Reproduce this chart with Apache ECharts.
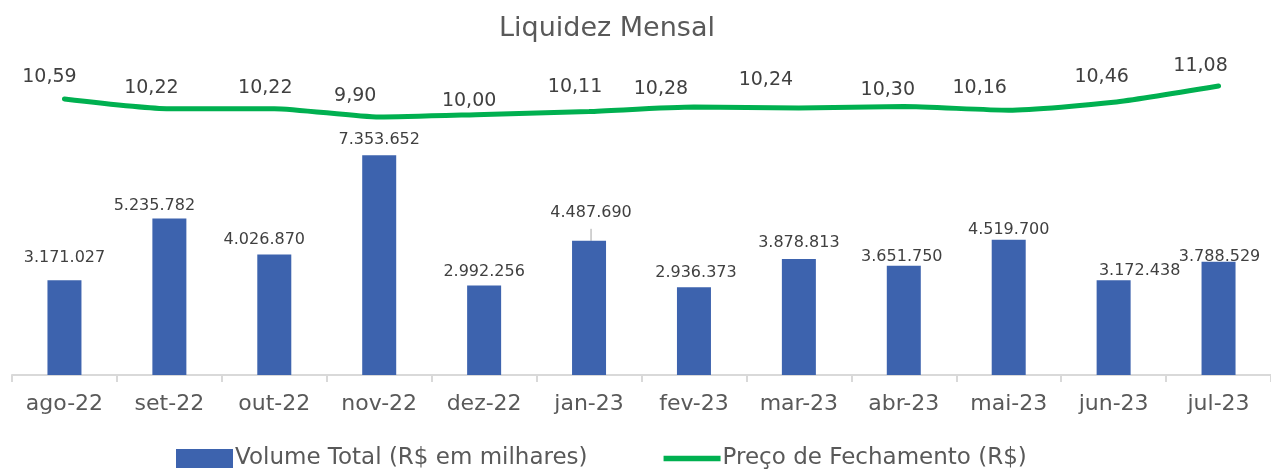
<!DOCTYPE html>
<html>
<head>
<meta charset="utf-8">
<script src="https://cdn.jsdelivr.net/npm/echarts@6/dist/echarts.min.js"></script>
<style>
  html, body { margin: 0; padding: 0; background: #fff; }
  #chart { width: 1271px; height: 470px; }
</style>
</head>
<body>
<div id="chart"></div>
<script>
// dados
var meses = ['ago-22', 'set-22', 'out-22', 'nov-22', 'dez-22', 'jan-23', 'fev-23', 'mar-23', 'abr-23', 'mai-23', 'jun-23', 'jul-23']
var volume = [3171027, 5235782, 4026870, 7353652, 2992256, 4487690, 2936373, 3878813, 3651750, 4519700, 3172438, 3788529]
var preco = [10.59, 10.22, 10.22, 9.90, 10.00, 10.11, 10.28, 10.24, 10.30, 10.16, 10.46, 11.08]

// ajustes manuais dos rótulos (como no Excel)
var offVol = [[0, -8], [-15, 1], [-10, -1], [0, -1], [0, 0], [2, -14], [2, 0], [0, -2], [-2, 5], [0, 4], [26, 5], [1, 9]]
var offPreco = [[-15, -1], [-18, 0], [-9, 0], [-24, 0], [-15, 7], [-14, -4], [-33, 3], [-33, -8], [-16, 4], [-29, -2], [-12, -5], [-18, 1]]
var comLinhaGuia = 5 // jan-23 tem linha guia no rótulo

var fonte = '"DejaVu Sans", sans-serif'
var cinza = '#595959'
var verde = '#00B050'

function fmtMil(v) {
  return String(v).replace(/\B(?=(\d{3})+(?!\d))/g, '.')
}
function fmtPreco(v) {
  return v.toFixed(2).replace('.', ',')
}

var chart = echarts.init(document.getElementById('chart'))
chart.setOption({
  animation: false,
  textStyle: { fontFamily: fonte },
  title: {
    text: 'Liquidez Mensal',
    left: 494,
    top: 10,
    textStyle: { fontFamily: fonte, fontSize: 27, fontWeight: 'normal', color: cinza }
  },
  legend: {
    bottom: 0,
    left: 176,
    padding: 0,
    itemGap: 76,
    itemWidth: 57,
    itemHeight: 19,
    textStyle: { fontFamily: fonte, fontSize: 23, color: cinza, padding: [0, 0, 0, -3] },
    data: [
      { name: 'Volume Total (R$ em milhares)', icon: 'rect' },
      { name: 'Preço de Fechamento (R$)', icon: 'path://M0,0 L10,0 L10,1 L0,1 Z', itemStyle: { color: verde } }
    ]
  },
  grid: { left: 12, top: 76, width: 1265, height: 299, containLabel: false },
  xAxis: {
    type: 'category',
    data: meses,
    boundaryGap: true,
    axisLine: { lineStyle: { color: '#D9D9D9', width: 2 } },
    axisTick: { show: true, length: 7, lineStyle: { color: '#D9D9D9', width: 2 } },
    axisLabel: { fontFamily: fonte, fontSize: 22, color: cinza, margin: 18 }
  },
  yAxis: [
    { type: 'value', min: 0, max: 10000000, show: false, splitLine: { show: false } },
    { type: 'value', min: 0.1, max: 11.46, show: false, splitLine: { show: false } }
  ],
  series: [
    {
      name: 'Volume Total (R$ em milhares)',
      type: 'bar',
      barWidth: 34,
      itemStyle: { color: '#3D63AE' },
      data: volume.map(function (v, i) {
        return {
          value: v,
          label: { offset: offVol[i] },
          labelLine: { show: i === comLinhaGuia, lineStyle: { color: '#A6A6A6', width: 1 } }
        }
      }),
      label: {
        show: true,
        position: 'top',
        distance: 6,
        fontFamily: fonte,
        fontSize: 16,
        color: '#404040',
        formatter: function (p) { return fmtMil(p.value) }
      }
    },
    {
      name: 'Preço de Fechamento (R$)',
      type: 'line',
      yAxisIndex: 1,
      smooth: 0.2,
      symbol: 'circle',
      symbolSize: 2,
      showSymbol: true,
      lineStyle: { color: verde, width: 5, cap: 'round' },
      itemStyle: { color: verde },
      data: preco.map(function (v, i) {
        return {
          value: v,
          label: { offset: offPreco[i] }
        }
      }),
      label: {
        show: true,
        position: 'top',
        distance: 10,
        fontFamily: fonte,
        fontSize: 19,
        color: '#404040',
        formatter: function (p) { return fmtPreco(p.value) }
      }
    }
  ]
})
</script>
</body>
</html>
